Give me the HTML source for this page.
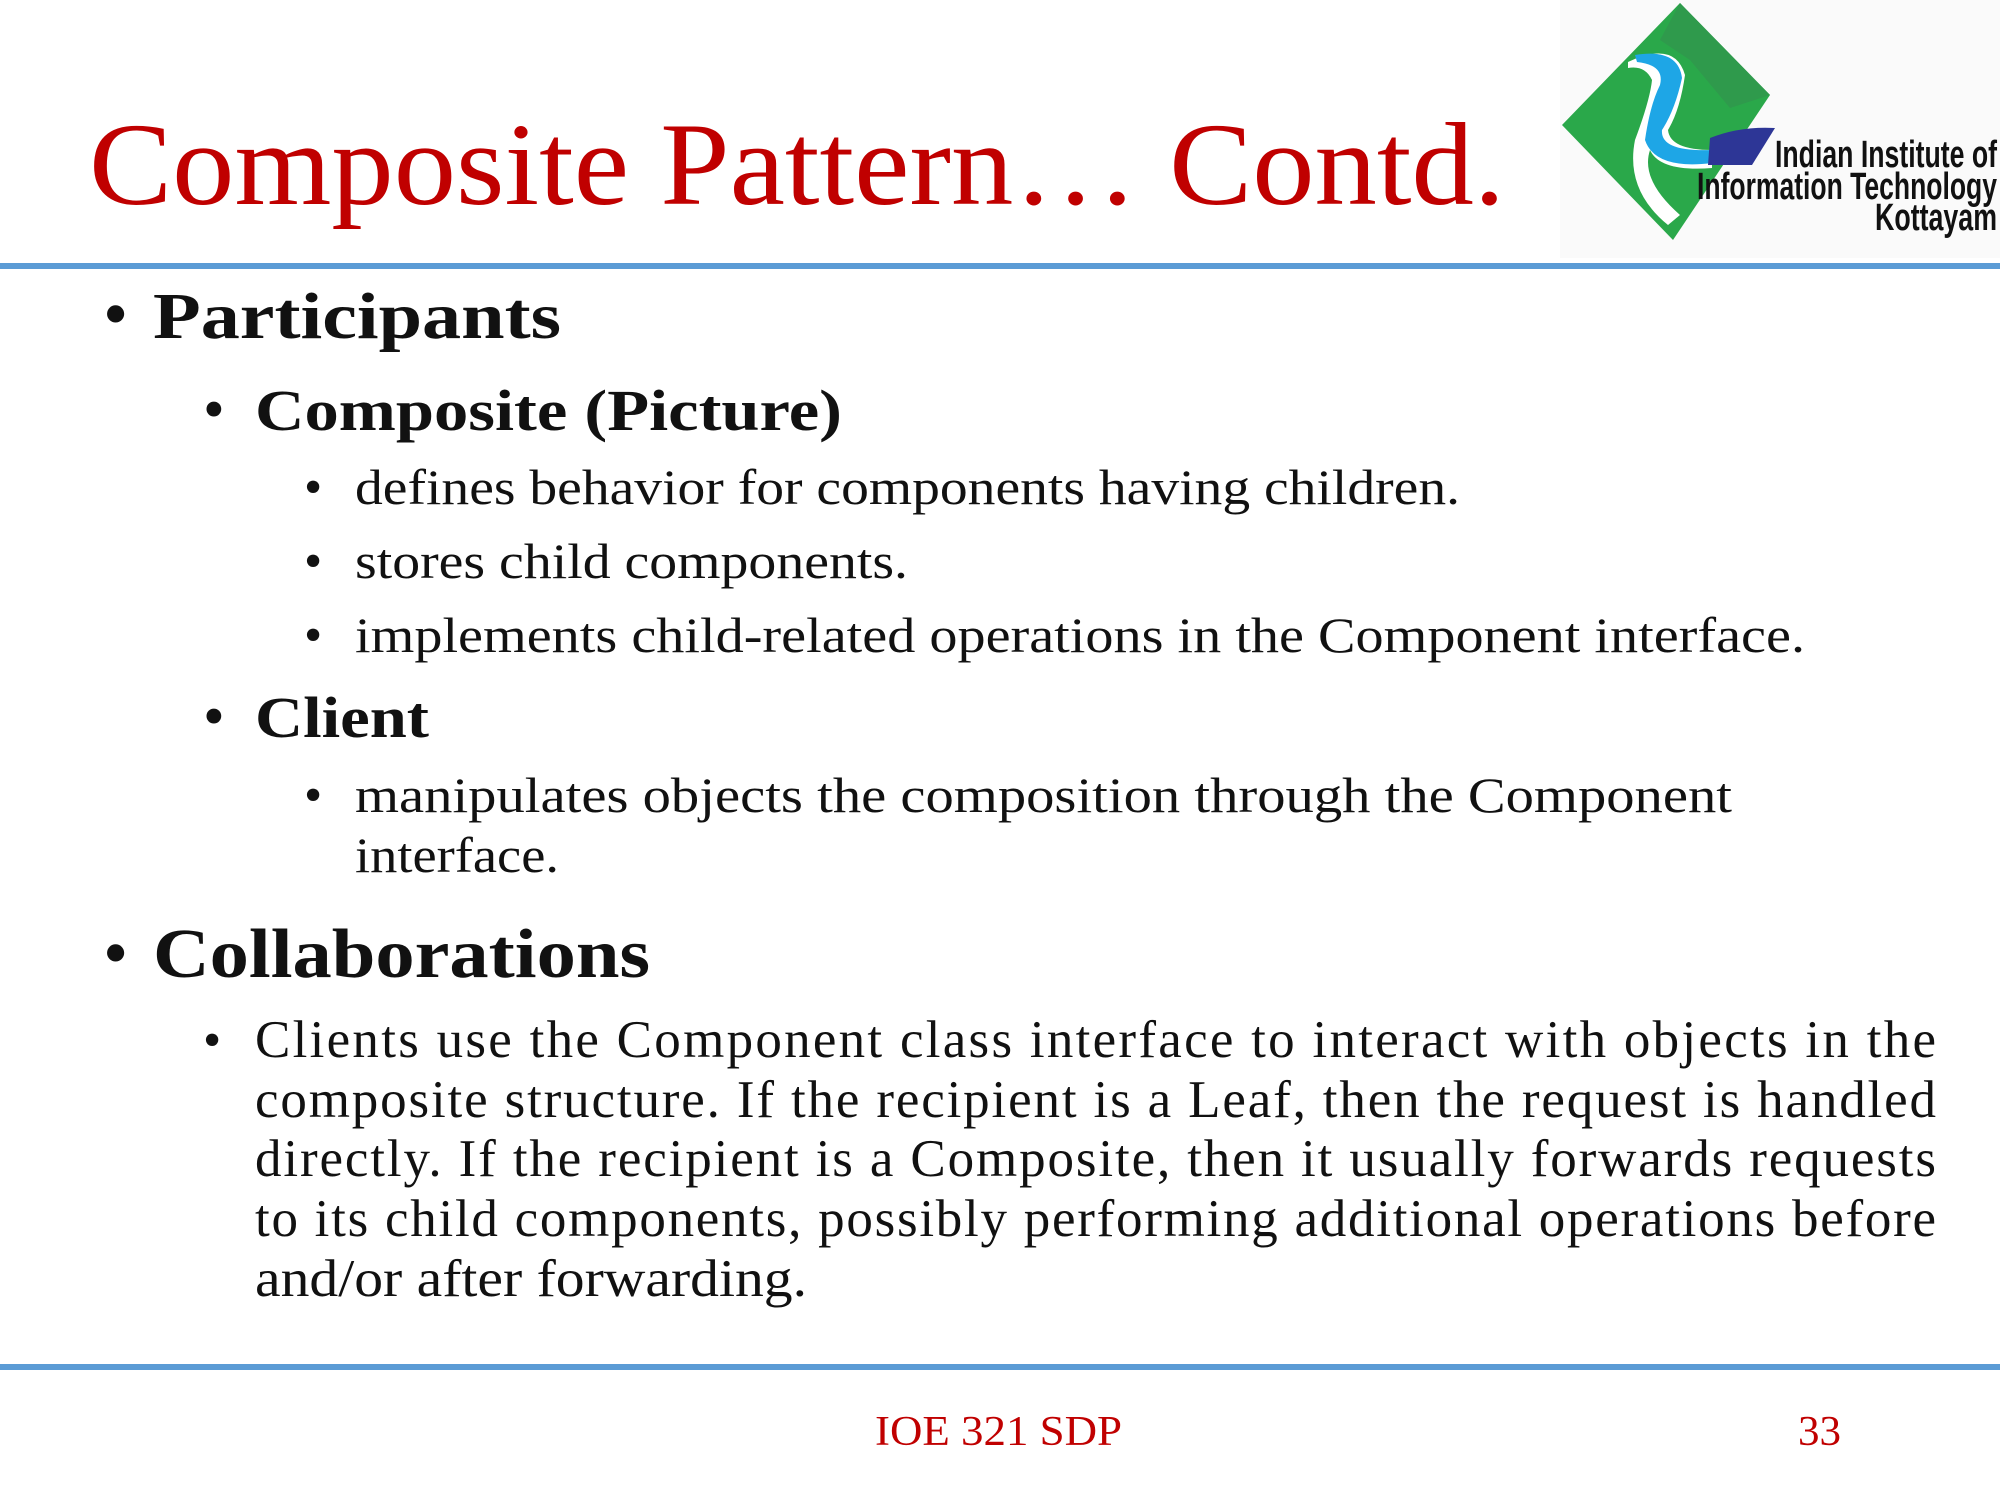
<!DOCTYPE html>
<html><head><meta charset="utf-8"><style>
html,body{margin:0;padding:0;background:#fff;}
svg{display:block;}
.s{font-family:"Liberation Serif",serif;fill:#111;}
.b{font-weight:bold;}
</style></head><body>
<svg width="2000" height="1500" viewBox="0 0 2000 1500">
<rect width="2000" height="1500" fill="#fff"/>
<rect x="1560" y="0" width="440" height="258" fill="#fafafa"/>
<g>
  <polygon points="1562,125 1680,3 1770,95 1673,240" fill="#2aa84a"/>
  <polygon points="1680,3 1770,95 1730,108 1690,60 1660,40" fill="#2f9a4c"/>
  <path d="M1628,62 Q1675,40 1685,75 Q1680,110 1668,130 Q1670,150 1712,150 L1712,168 Q1660,172 1650,150 Q1640,180 1680,215 L1668,225 Q1625,190 1635,140 Q1650,100 1652,80 Q1645,65 1628,68 Z" fill="#fff"/>
  <path d="M1635,55 Q1678,48 1682,78 Q1675,110 1662,130 Q1660,152 1712,150 L1712,163 Q1655,170 1645,140 Q1650,105 1660,85 Q1665,65 1637,62 Z" fill="#1ea6e6"/>
  <path d="M1710,138 Q1740,126 1775,128 L1752,165 L1708,165 Z" fill="#2d3696"/>
  <text x="1997" y="167" text-anchor="end" textLength="222" lengthAdjust="spacingAndGlyphs" font-family="Liberation Sans,sans-serif" font-weight="bold" font-size="38" fill="#111">Indian Institute of</text>
  <text x="1997" y="199" text-anchor="end" textLength="300" lengthAdjust="spacingAndGlyphs" font-family="Liberation Sans,sans-serif" font-weight="bold" font-size="38" fill="#111">Information Technology</text>
  <text x="1997" y="230" text-anchor="end" textLength="122" lengthAdjust="spacingAndGlyphs" font-family="Liberation Sans,sans-serif" font-weight="bold" font-size="38" fill="#111">Kottayam</text>
</g>
<text x="89" y="204" textLength="1416" lengthAdjust="spacingAndGlyphs" font-family="Liberation Serif,serif" font-size="118" fill="#c00000">Composite Pattern… Contd.</text>
<rect x="0" y="263" width="2000" height="6" fill="#5b9bd5"/>

<g class="s">
<text x="103" y="338" font-size="72">•</text>
<text x="153" y="338" class="b" font-size="66" textLength="408" lengthAdjust="spacingAndGlyphs">Participants</text>
<text x="203" y="430" font-size="62">•</text>
<text x="255" y="430" class="b" font-size="58" textLength="587" lengthAdjust="spacingAndGlyphs">Composite (Picture)</text>
<text x="304" y="504" font-size="52">•</text>
<text x="355" y="504" font-size="50" textLength="1105" lengthAdjust="spacingAndGlyphs">defines behavior for components having children.</text>
<text x="304" y="578" font-size="52">•</text>
<text x="355" y="578" font-size="50" textLength="553" lengthAdjust="spacingAndGlyphs">stores child components.</text>
<text x="304" y="652" font-size="52">•</text>
<text x="355" y="652" font-size="50" textLength="1450" lengthAdjust="spacingAndGlyphs">implements child-related operations in the Component interface.</text>
<text x="203" y="737" font-size="62">•</text>
<text x="255" y="737" class="b" font-size="58" textLength="174" lengthAdjust="spacingAndGlyphs">Client</text>
<text x="304" y="812" font-size="52">•</text>
<text x="355" y="812" font-size="50" textLength="1377" lengthAdjust="spacingAndGlyphs">manipulates objects the composition through the Component</text>
<text x="355" y="872" font-size="50" textLength="204" lengthAdjust="spacingAndGlyphs">interface.</text>
<text x="103" y="977" font-size="72">•</text>
<text x="153" y="977" class="b" font-size="70" textLength="497" lengthAdjust="spacingAndGlyphs">Collaborations</text>
<text x="203" y="1057" font-size="52">•</text>
<g font-size="53">
<text x="255" y="1057" textLength="1681" lengthAdjust="spacing">Clients use the Component class interface to interact with objects in the</text>
<text x="255" y="1117" textLength="1681" lengthAdjust="spacing">composite structure. If  the recipient is a Leaf, then the request is handled</text>
<text x="255" y="1176" textLength="1681" lengthAdjust="spacing">directly. If  the recipient is a Composite, then it usually forwards requests</text>
<text x="255" y="1236" textLength="1681" lengthAdjust="spacing">to its child components, possibly performing additional operations before</text>
<text x="255" y="1296" textLength="552" lengthAdjust="spacingAndGlyphs">and/or after forwarding.</text>
</g>
</g>

<rect x="0" y="1364" width="2000" height="6" fill="#5b9bd5"/>
<text x="875" y="1445" textLength="247" lengthAdjust="spacingAndGlyphs" font-family="Liberation Serif,serif" font-size="42" fill="#c00000">IOE 321 SDP</text>
<text x="1798" y="1445" textLength="43" lengthAdjust="spacingAndGlyphs" font-family="Liberation Serif,serif" font-size="42" fill="#c00000">33</text>
</svg>
</body></html>
